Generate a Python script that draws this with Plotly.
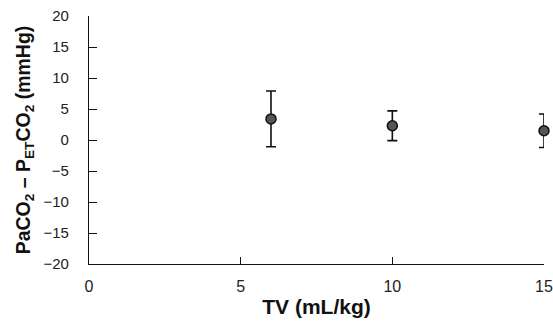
import plotly.graph_objects as go

# Tidal volume groups and PaCO2 - PetCO2 gradient (mean ± SD)
tv = [6, 10, 15]
gradient_mean = [3.4, 2.3, 1.5]
gradient_sd = [4.5, 2.4, 2.7]

x_ticks = [0, 5, 10, 15]
y_ticks = [-20, -15, -10, -5, 0, 5, 10, 15, 20]

fig = go.Figure()
fig.add_trace(go.Scatter(
    x=tv, y=gradient_mean,
    mode="markers",
    marker=dict(size=10, color="#555555", line=dict(color="#111111", width=1.5)),
    error_y=dict(type="data", array=gradient_sd, visible=True,
                 color="#111111", thickness=1.6, width=5),
    cliponaxis=False,
    showlegend=False,
))

family = "Arial, Liberation Sans, sans-serif"

fig.update_layout(
    width=553, height=324,
    margin=dict(l=89, r=9, t=16, b=60),
    paper_bgcolor="white", plot_bgcolor="white",
    xaxis=dict(
        range=[0, 15], tickvals=x_ticks, ticktext=[str(v) for v in x_ticks],
        showgrid=False, zeroline=False, showline=True, linecolor="#111111", linewidth=1.2,
        ticks="inside", ticklen=7, tickcolor="#111111",
        tickfont=dict(family=family, size=16, color="#222222"),
        ticklabelstandoff=8,
        automargin=False,
        title=dict(text="<b>TV (mL/kg)</b>", font=dict(family=family, size=21, color="#111111"),
                   standoff=5),
    ),
    yaxis=dict(
        range=[-20, 20], tickvals=y_ticks, ticktext=[str(v).replace("-", "\u2212") for v in y_ticks],
        showgrid=False, zeroline=False, showline=True, linecolor="#111111", linewidth=1.2,
        ticks="inside", ticklen=8, tickcolor="#111111",
        tickfont=dict(family=family, size=15, color="#222222"),
        ticklabelstandoff=16,
        automargin=False,
        title=dict(text="<b>PaCO<sub>2</sub> \u2013 P<sub>ET</sub>CO<sub>2</sub> (mmHg)</b>",
                   font=dict(family=family, size=19.5, color="#111111"), standoff=7),
    ),
)

fig.write_html("out.html")
